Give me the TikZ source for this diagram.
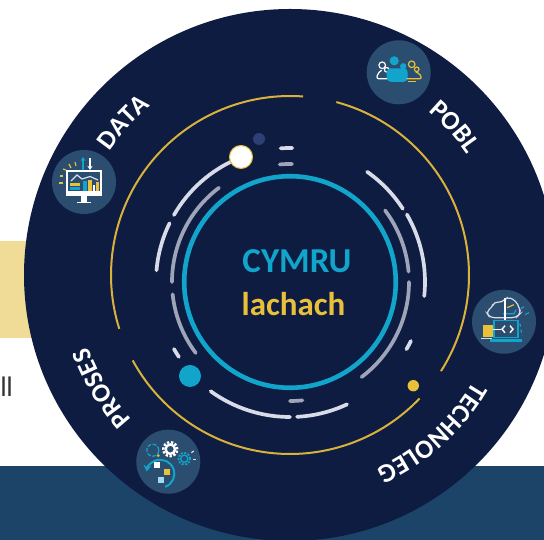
\documentclass[tikz,border=0pt]{standalone}
\usepackage{fontspec}
\setmainfont{Carlito}
\newfontfamily\bodyfont{Liberation Sans}
\usetikzlibrary{arrows.meta, decorations.text}
\definecolor{NightBlue}{RGB}{14, 28, 66}
\definecolor{BandBlue}{RGB}{28, 68, 104}
\definecolor{BadgeBlue}{RGB}{42, 77, 112}
\definecolor{SkyBlue}{RGB}{18, 165, 204}
\definecolor{Gold}{RGB}{232, 192, 58}
\definecolor{RingGold}{RGB}{216, 178, 58}
\definecolor{PaleGold}{RGB}{240, 220, 150}
\definecolor{PaleArc}{RGB}{216, 220, 232}
\definecolor{GreyArc}{RGB}{159, 165, 184}
\definecolor{DeepDot}{RGB}{45, 63, 116}
\newcommand{\ringfont}{\fontsize{26.5}{26.5}\selectfont\bfseries}
\tikzset{
  palearc/.style={PaleArc, line width=3.7pt, line cap=round},
  greyarc/.style={GreyArc, line width=3.7pt, line cap=round},
  goldarc/.style={RingGold, line width=2pt},
  badge/.style={circle, fill=BadgeBlue, minimum size=64pt, inner sep=0pt},
  ringlabel/.style={decorate, decoration={text along path, text align=center, text color=white, text={|\ringfont|#1}}},
  thinline/.style={line width=1.2pt}
}

\begin{document}
\begin{tikzpicture}[x=1pt, y=1pt]
  \useasboundingbox (0, 0) rectangle (544, 540);
  \clip (0, 0) rectangle (544, 540);
  \fill[white] (0, 0) rectangle (544, 540);
  \fill[PaleGold] (0, 202) rectangle (60, 298.5);
  \fill[BandBlue] (0, 0) rectangle (544, 74);
  \node[font=\bodyfont\fontsize{27}{27}\selectfont, color=black!80, anchor=base west, inner sep=0pt] (cutoff) at (0.5, 143) {ll};

  \node[circle, fill=NightBlue, minimum size=532pt, inner sep=0pt] (disc) at (290, 265) {};
  \coordinate (hub) at (290, 258);

  % gold ring
  \draw[goldarc] ([shift={(85.8:179)}]disc.center) arc (85.8:197.5:179pt);
  \draw[goldarc] ([shift={(75:179)}]disc.center) arc (75:-32.5:179pt);
  \draw[goldarc] ([shift={(208.5:179)}]disc.center) arc (208.5:316.4:179pt);

  % inner ring and dashes
  \draw[SkyBlue, line width=4.6pt] (hub) circle (105.8pt);
  \draw[palearc] ([shift={(113:134)}]hub) arc (113:150:134pt);
  \draw[palearc] ([shift={(154:134)}]hub) arc (154:175:134pt);
  \draw[greyarc] ([shift={(127:118)}]hub) arc (127:180:118pt);
  \draw[greyarc] ([shift={(186:118)}]hub) arc (186:217:118pt);
  \draw[palearc] ([shift={(210:134)}]hub) arc (210:214:134pt);
  \draw[palearc] ([shift={(234:135)}]hub) arc (234:270:135pt);
  \draw[palearc] ([shift={(273:135)}]hub) arc (273:295:135pt);
  \draw[greyarc] ([shift={(270:119)}]hub) arc (270:276:119pt);
  \draw[greyarc] ([shift={(-53:119)}]hub) arc (-53:0:119pt);
  \draw[greyarc] ([shift={(5:119)}]hub) arc (5:37:119pt);
  \draw[palearc] ([shift={(-6:135)}]hub) arc (-6:30:135pt);
  \draw[palearc] ([shift={(33:134.5)}]hub) arc (33:55:134.5pt);
  \draw[palearc] ([shift={(-30:134.5)}]hub) arc (-30:-26:134.5pt);
  \draw[palearc] ([shift={(89:134)}]hub) arc (89:94:134pt);
  \draw[greyarc] ([shift={(89:118)}]hub) arc (89:95:118pt);

  % dots
  \node[circle, fill=white, draw=Gold, line width=1pt, minimum size=23pt, inner sep=0pt] (whitedot) at (241, 383) {};
  \node[circle, fill=DeepDot, minimum size=12pt, inner sep=0pt] (deepdot) at (259, 401) {};
  \node[circle, fill=SkyBlue, minimum size=22pt, inner sep=0pt] (skydot) at (190, 164) {};
  \node[circle, fill=Gold, minimum size=11.4pt, inner sep=0pt] (golddot) at (413.3, 154.3) {};

  % centre text
  \node[font=\fontsize{35}{35}\selectfont\bfseries, color=SkyBlue, anchor=base, inner sep=0pt] (cymru) at (297, 267) {CYMRU};
  \node[font=\fontsize{33}{33}\selectfont\bfseries, color=Gold, anchor=base, inner sep=0pt] (lachach) at (293.5, 224.5) {lachach};

  % ring labels
  \path[ringlabel=DATA] ([shift={(177.5:219)}]disc.center) arc (177.5:97.5:219pt);
  \path[ringlabel=POBL] ([shift={(82:214)}]disc.center) arc (82:2:214pt);
  \path[ringlabel=TECHNOLEG] ([shift={(9.5:212)}]disc.center) arc (9.5:-105.5:212pt);
  \path[ringlabel=PROSES] ([shift={(251:214)}]disc.center) arc (251:171:214pt);

  % data badge
  \node[badge] (databadge) at (84, 358) {};
  \begin{scope}[shift={(databadge.center)}]
    \draw[white, thinline] (-17, -9) -- (-17, 11) -- (17, 11) -- (17, -9);
    \fill[white] (-18, -9) rectangle (18, -14.5);
    \fill[white] (-3, -14.5) rectangle (3, -20);
    \fill[white] (-7, -20) rectangle (7, -21.5);
    \fill[Gold] (-14, -4) rectangle (-4, -1);
    \fill[SkyBlue] (-14, -8) rectangle (-4, -5);
    \fill[SkyBlue] (-1, -9) rectangle (3, 1);
    \fill[Gold] (4, -9) rectangle (8, 2);
    \fill[white] (8.5, -9) rectangle (11, -3);
    \fill[Gold] (12, -9) rectangle (15, 0);
    \draw[PaleArc, thinline] (-13, 1) -- (-7, 7) -- (-2, 3) -- (6, 5.5) -- (14, 2);
    \draw[SkyBlue, line width=1.5pt, -{Stealth[length=4pt, width=5pt]}] (-1, 12) -- (-1, 25);
    \draw[white, line width=1.5pt, -{Stealth[length=4pt, width=5pt]}] (6, 24) -- (6, 12);
    \draw[Gold, thinline] (-9, 20) -- (-8, 16);
    \draw[Gold, thinline] (-15, 18) -- (-13, 14);
    \draw[Gold, thinline] (-21, 13) -- (-18, 12);
    \draw[Gold, thinline] (-24, 6) -- (-21, 6);
    \draw[Gold, thinline] (-25, -1) -- (-21, -1);
  \end{scope}

  % pobl badge
  \node[badge] (poblbadge) at (398.7, 467.7) {};
  \begin{scope}[shift={(poblbadge.center)}]
    \draw[white, thinline] (-16.5, 7) circle (3.3pt);
    \draw[white, thinline] (-12, 2.5) circle (2.3pt);
    \draw[white, thinline, rounded corners=2pt] (-7, -6.5) -- (-22, -6.5) -- (-21, -1) -- (-17, 2);
    \fill[SkyBlue] (-4.5, 11.5) circle (4.6pt);
    \fill[SkyBlue] (4.5, 6) circle (3.2pt);
    \fill[SkyBlue, rounded corners=4pt] (-12, -9.5) rectangle (9, 4);
    \draw[Gold, thinline] (13, 8) circle (3.3pt);
    \draw[Gold, thinline] (18, 3) circle (2.3pt);
    \draw[Gold, thinline, rounded corners=2pt] (8, -6.5) -- (23, -6.5) -- (21, -1) -- (17, 0);
    \draw[Gold, thinline] (9, -9) -- (17, -9);
  \end{scope}

  % technoleg badge
  \node[badge] (techbadge) at (504, 218.3) {};
  \begin{scope}[shift={(techbadge.center)}]
    \draw[PaleArc, thinline, rounded corners=4pt] (-2, 4) -- (-14, 4) -- (-18, 10) -- (-12, 14) -- (-10, 20) -- (-2, 19) -- (3, 25) -- (12, 21) -- (15, 14) -- (17, 9) -- (12, 4) -- (-2, 4);
    \draw[SkyBlue, thinline] (-1, 8) -- (10, 8) -- (12, 12);
    \draw[Gold, thinline] (3, 14) -- (10, 17);
    \draw[white, thinline] (1, 24) -- (1, 1);
    \draw[SkyBlue, line width=1.5pt] (-10, 1) rectangle (14, -16);
    \fill[SkyBlue] (-14, -17) rectangle (18, -20);
    \fill[Gold] (-21, -15) rectangle (-11, -3);
    \draw[PaleArc, thinline] (-23, -17) -- (-12, -17);
    \draw[white, thinline] (-11, -8) -- (-3, -8);
    \draw[white, line width=1.4pt] (1, -4) -- (-2, -7.5) -- (1, -11);
    \draw[white, line width=1.4pt] (6, -4) -- (9, -7.5) -- (6, -11);
    \draw[SkyBlue, thinline] (17, 13) -- (20, 15);
    \draw[SkyBlue, thinline] (21, 7) -- (25, 9);
    \draw[SkyBlue, thinline, dashed] (16, -2) -- (18, -14);
  \end{scope}

  % proses badge
  \node[badge] (prosesbadge) at (168.3, 78.3) {};
  \begin{scope}[shift={(prosesbadge.center)}]
    \draw[SkyBlue, line width=1.2pt, dash pattern=on 4pt off 1.5pt] (-15.5, 11.5) circle (6pt);
    \fill[Gold] (-10, 6) circle (1.5pt);
    \draw[white, line width=2.4pt, dash pattern=on 2.3pt off 1.7pt] (2, 12.5) circle (7pt);
    \draw[white, line width=2.4pt] (2, 12.5) circle (4.7pt);
    \draw[SkyBlue, line width=1.8pt, dash pattern=on 2pt off 1.5pt] (16, 3) circle (5.8pt);
    \draw[SkyBlue, line width=1.3pt] (16, 3) circle (3.6pt);
    \draw[PaleArc, thinline, dashed] (23, 9) -- (26, 11);
    \draw[PaleArc, thinline, dashed] (25, 2) -- (28, 2);
    \draw[SkyBlue, line width=2pt, -{Stealth[length=6pt, width=8pt]}] (-3.2, -25.2) arc (-70:170:14pt);
    \fill[white] (-14, -6.5) rectangle (-8, -0.5);
    \fill[Gold] (-4, -13) rectangle (2, -7);
    \fill[SkyBlue!40] (-10.5, -21) rectangle (-4, -15);
  \end{scope}
\end{tikzpicture}
\end{document}
